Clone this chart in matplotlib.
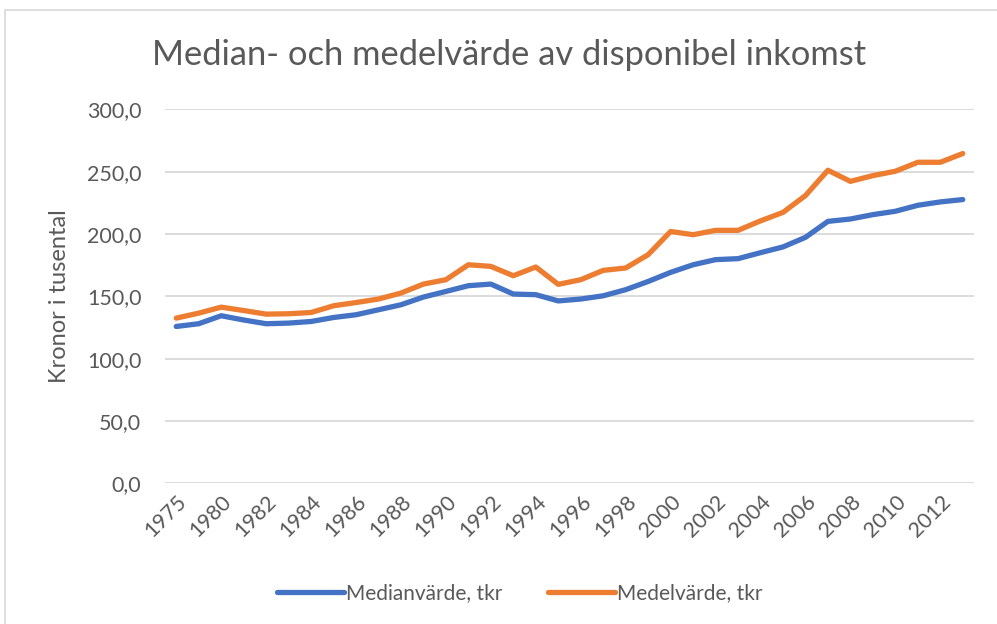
import matplotlib.pyplot as plt
from matplotlib.patches import Rectangle

# data (tkr)
years = ['1975', '1978', '1980', '1981', '1982', '1983', '1984', '1985', '1986', '1987',
         '1988', '1989', '1990', '1991', '1992', '1993', '1994', '1995', '1996', '1997',
         '1998', '1999', '2000', '2001', '2002', '2003', '2004', '2005', '2006', '2007',
         '2008', '2009', '2010', '2011', '2012', '2013']
median = [125.8, 128.0, 134.4, 131.0, 128.0, 128.5, 129.8, 133.0, 135.2, 139.2,
          143.2, 149.4, 153.9, 158.5, 159.8, 151.8, 151.3, 146.3, 147.8, 150.4,
          155.3, 161.9, 169.2, 175.3, 179.4, 180.2, 185.0, 189.6, 197.3, 210.1,
          212.0, 215.5, 218.2, 223.0, 225.7, 227.6]
mean = [132.5, 136.5, 141.3, 138.6, 135.7, 136.0, 137.0, 142.4, 145.0, 147.8,
        152.6, 159.8, 163.3, 175.3, 174.0, 166.5, 173.5, 159.6, 163.3, 170.8,
        172.7, 183.4, 202.0, 199.4, 202.9, 202.9, 210.5, 217.3, 230.8, 251.1,
        242.2, 246.8, 250.3, 257.5, 257.5, 264.5]
yticks = [0, 50, 100, 150, 200, 250, 300]

txt = '#595959'
plt.rcParams['font.family'] = ['Lato', 'DejaVu Sans']

fig = plt.figure(figsize=(9.97, 6.24), dpi=100)
ax = fig.add_axes([165/997, 1 - 483.3/624, 809/997, (483.3 - 109.3)/624])

x = list(range(len(years)))
ax.plot(x, median, color='#4472C4', lw=3.8, solid_capstyle='round', label='Medianvärde, tkr')
ax.plot(x, mean, color='#ED7D31', lw=3.8, solid_capstyle='round', label='Medelvärde, tkr')

ax.set_xlim(-0.5, len(years) - 0.5)
ax.set_ylim(0, 300)
ax.set_yticks(yticks)
ax.set_yticklabels([f'{v:.1f}'.replace('.', ',') for v in yticks], fontsize=15.5, color=txt)
ax.set_xticks(x[::2])
ax.set_xticklabels(years[::2], rotation=45, ha='right', rotation_mode='anchor',
                   fontsize=15.5, color=txt)
ax.tick_params(axis='both', length=0)
ax.tick_params(axis='y', pad=17)
ax.tick_params(axis='x', pad=6)
ax.grid(axis='y', color='#D9D9D9', lw=1.3)
ax.set_axisbelow(True)
for s in ax.spines.values():
    s.set_visible(False)

ax.set_ylabel('Kronor i tusental', fontsize=17, color=txt, labelpad=12)
fig.text(509/997, 1 - 55/624, 'Median- och medelvärde av disponibel inkomst',
         ha='center', va='center', fontsize=24.8, color=txt)

leg = fig.legend(loc='center', bbox_to_anchor=(520/997, 1 - 593/624), ncol=2,
                 frameon=False, fontsize=15, handlelength=3.2, handletextpad=0.1,
                 columnspacing=2.2)
for t in leg.get_texts():
    t.set_color(txt)

# chart border (only top/left visible in the original crop)
fig.patches.append(Rectangle((5/997, -0.1), 1.2, 1 - 10/624 + 0.1, transform=fig.transFigure,
                             fill=False, edgecolor='#D9D9D9', lw=1.2))

fig.savefig('out.png', dpi=100)
